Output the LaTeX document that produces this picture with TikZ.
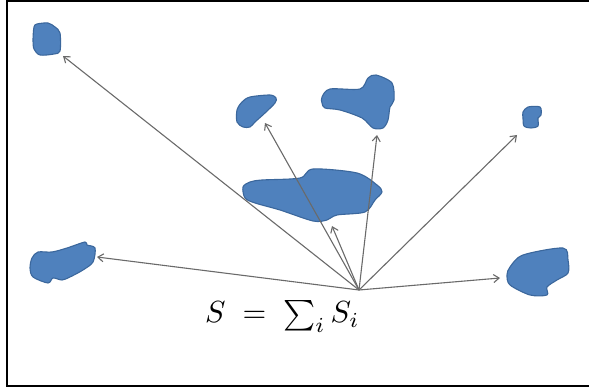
\documentclass[tikz,border=0pt]{standalone}
\usetikzlibrary{arrows.meta}
\definecolor{blobfill}{HTML}{4F81BD}
\definecolor{blobline}{HTML}{3B679C}
\definecolor{arr}{HTML}{6A6A6A}
\begin{document}
\begin{tikzpicture}[x=1pt,y=-1pt,
  blob/.style={fill=blobfill,draw=blobline,line width=1.1pt,line join=round},
  ray/.style={draw=arr,line width=1.1pt,-{Straight Barb[length=5.5pt,width=8pt,line width=1.1pt]}},
  frame/.style={draw=black,line width=2pt}]
\useasboundingbox (0,0) rectangle (589,387);
% frame (right side not shown)
\draw[frame] (589,1) -- (6.5,1) -- (6.5,385.5) -- (589,385.5);
% blobs
\draw[blob] plot[smooth cycle,tension=0.5] coordinates {(37,24) (48,23) (55,27) (60,33) (60,51) (54,54) (40,55) (34,49) (33,40) (34,27)};
\draw[blob] plot[smooth cycle,tension=0.5] coordinates {(237,110) (242,102) (250,97) (270,95) (276,98) (275,103) (265,113) (255,122) (250,127) (243,127) (237,122)};
\draw[blob] plot[smooth cycle,tension=0.5] coordinates {(322,97) (330,89) (360,89) (368,78) (376,75) (392,83) (394,100) (390,107) (388,120) (383,128) (373,128) (362,118) (340,110) (325,108) (322,103)};
\draw[blob] plot[smooth cycle,tension=0.5] coordinates {(523,112) (528,107) (540,107) (541,115) (538,118) (538,126) (531,128) (524,126) (523,118)};
\draw[blob] plot[smooth cycle,tension=0.5] coordinates {(243,187) (250,182) (262,180) (300,178) (313,169) (357,173) (377,185) (382,192) (375,200) (365,212) (337,215) (327,220) (313,221) (280,210) (255,203) (245,198)};
\draw[blob] plot[smooth cycle,tension=0.5] coordinates {(32,258) (38,252) (52,252) (67,248) (85,242) (87,245) (95,248) (93,262) (83,270) (70,277) (62,280) (53,278) (48,283) (33,277) (30,268)};
\draw[blob] plot[smooth cycle,tension=0.5] coordinates {(510,267) (523,255) (563,248) (568,260) (568,273) (557,280) (547,287) (547,295) (530,295) (510,285) (507,275)};
% rays
\coordinate (o) at (359,290);
\coordinate (t1) at (63,56);
\coordinate (t2) at (97,257);
\coordinate (t3) at (265,123);
\coordinate (t4) at (377,135);
\coordinate (t5) at (517,135);
\coordinate (t6) at (500,278);
\coordinate (t7) at (332,226);
\foreach \t in {t1,t2,t3,t4,t5,t6,t7} \draw[ray] (o) -- (\t);
% formula
\node[inner sep=0pt,anchor=base west] (eq) at (205,323) {\scalebox{3.05}{$S\;=\;\sum_i S_i$}};
\end{tikzpicture}
\end{document}
